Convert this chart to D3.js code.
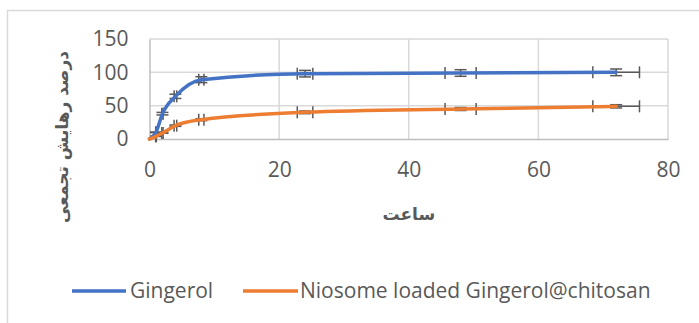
<!DOCTYPE html>
<html>
<head>
<meta charset="utf-8">
<script src="https://cdn.jsdelivr.net/npm/d3@7/dist/d3.min.js"></script>
<style>
  html, body { margin: 0; padding: 0; background: #fff; }
  svg { display: block; }
</style>
</head>
<body>
<svg id="chart" width="699" height="323"></svg>
<script>
// Release time points (hours)
const hours = [0, 1, 2, 4, 8, 24, 48, 72];
// Cumulative release (%) for each formulation
const gingerol = [0, 10, 38, 64, 89, 98, 99, 100];
const niosome = [0, 4, 9, 20, 29, 40, 45, 49];
const seriesNames = ["Gingerol", "Niosome loaded Gingerol@chitosan"];
const seriesColors = ["#4472C4", "#ED7D31"];
// Error bars: 5% of each value in both directions
const errorPct = 0.05;
const xTicks = [0, 20, 40, 60, 80];
const yTicks = [0, 50, 100, 150];
const xTitle = "ساعت";
const yTitle = "درصد رهایش تجمعی";

const svg = d3.select("#chart");
const latin = "'Open Sans', 'Liberation Sans', sans-serif";
const arabic = "'DejaVu Sans', 'Noto Sans', sans-serif";
const textColor = "#595959";

// Outer chart frame
svg.append("rect")
  .attr("x", 7.5).attr("y", 10.5)
  .attr("width", 700).attr("height", 330)
  .attr("fill", "none").attr("stroke", "#d9d9d9").attr("stroke-width", 1.5);

const plot = { left: 149.5, right: 668, top: 39, bottom: 139 };
const x = d3.scaleLinear().domain([0, 80]).range([plot.left, plot.right]);
const y = d3.scaleLinear().domain([0, 150]).range([plot.bottom, plot.top]);

// Gridlines
svg.append("g").selectAll("line.h").data(yTicks.filter(d => d > 0)).join("line")
  .attr("x1", plot.left).attr("x2", plot.right)
  .attr("y1", d => y(d)).attr("y2", d => y(d))
  .attr("stroke", "#d9d9d9").attr("stroke-width", 1.5);
svg.append("g").selectAll("line.v").data(xTicks.filter(d => d > 0)).join("line")
  .attr("x1", d => x(d)).attr("x2", d => x(d))
  .attr("y1", plot.top).attr("y2", plot.bottom)
  .attr("stroke", "#d9d9d9").attr("stroke-width", 1.5);

// Axis lines and tick labels via d3 axes
const xAxis = svg.append("g").attr("transform", `translate(0,${plot.bottom})`)
  .call(d3.axisBottom(x).tickValues(xTicks).tickSize(0).tickPadding(23));
const yAxis = svg.append("g").attr("transform", `translate(${plot.left},0)`)
  .call(d3.axisLeft(y).tickValues(yTicks).tickSize(0).tickPadding(21));
[xAxis, yAxis].forEach(g => {
  g.select(".domain").attr("stroke", "#bfbfbf").attr("stroke-width", 1.5);
  g.selectAll("text").attr("fill", textColor)
    .style("font-family", latin).style("font-size", "21px");
});

// Error bars (drawn beneath the lines)
const capHalf = 6;
const series = [gingerol, niosome];
series.forEach((vals, si) => {
  const pts = hours.map((h, i) => ({ h, v: vals[i] })).filter(p => p.h > 0);
  const g = svg.append("g").attr("stroke", "#595959").attr("stroke-width", 1.5).attr("fill", "none");
  pts.forEach(p => {
    const cx = x(p.h), cy = y(p.v);
    const dx = p.h * errorPct, dy = p.v * errorPct;
    const x0 = x(p.h - dx), x1 = x(p.h + dx);
    const y0 = y(p.v - dy), y1 = y(p.v + dy);
    g.append("line").attr("x1", x0).attr("x2", x1).attr("y1", cy).attr("y2", cy);
    g.append("line").attr("x1", x0).attr("x2", x0).attr("y1", cy - capHalf).attr("y2", cy + capHalf);
    g.append("line").attr("x1", x1).attr("x2", x1).attr("y1", cy - capHalf).attr("y2", cy + capHalf);
    g.append("line").attr("x1", cx).attr("x2", cx).attr("y1", y0).attr("y2", y1);
    g.append("line").attr("x1", cx - capHalf).attr("x2", cx + capHalf).attr("y1", y0).attr("y2", y0);
    g.append("line").attr("x1", cx - capHalf).attr("x2", cx + capHalf).attr("y1", y1).attr("y2", y1);
  });
});

// Smoothed release curves
const line = d3.line().x(d => x(d.h)).y(d => y(d.v)).curve(d3.curveMonotoneX);
series.forEach((vals, si) => {
  svg.append("path")
    .datum(hours.map((h, i) => ({ h, v: vals[i] })))
    .attr("d", line)
    .attr("fill", "none")
    .attr("stroke", seriesColors[si])
    .attr("stroke-width", 3.5)
    .attr("stroke-linejoin", "round")
    .attr("stroke-linecap", "round");
});

// Axis titles
svg.append("text")
  .attr("x", (plot.left + plot.right) / 2).attr("y", 220)
  .attr("text-anchor", "middle").attr("direction", "rtl")
  .attr("fill", textColor)
  .style("font-family", arabic).style("font-size", "17px").style("font-weight", "bold")
  .text(xTitle);
svg.append("text")
  .attr("transform", "translate(68,137) rotate(-90)")
  .attr("text-anchor", "middle").attr("direction", "rtl")
  .attr("fill", textColor)
  .style("font-family", arabic).style("font-size", "17px").style("font-weight", "bold")
  .text(yTitle);

// Legend
const legendItems = [
  { name: seriesNames[0], color: seriesColors[0], x0: 72, x1: 126, tx: 130 },
  { name: seriesNames[1], color: seriesColors[1], x0: 243, x1: 298, tx: 300 }
];
const lg = svg.append("g");
legendItems.forEach(it => {
  lg.append("line").attr("x1", it.x0).attr("x2", it.x1).attr("y1", 291).attr("y2", 291)
    .attr("stroke", it.color).attr("stroke-width", 3.5);
  lg.append("text").attr("x", it.tx).attr("y", 291).attr("dy", "0.35em")
    .attr("fill", textColor)
    .style("font-family", latin).style("font-size", "21px")
    .text(it.name);
});
</script>
</body>
</html>
